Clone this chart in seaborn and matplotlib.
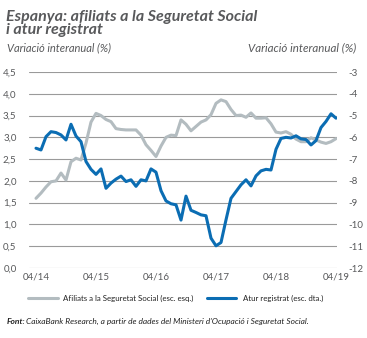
import matplotlib
matplotlib.use("Agg")
import matplotlib.pyplot as plt
import seaborn as sns
import pandas as pd
import numpy as np
from matplotlib.lines import Line2D

sns.set_style("white")
plt.rcParams['font.family'] = ['Lato', 'DejaVu Sans']

month_labels = ["04/14", "04/15", "04/16", "04/17", "04/18", "04/19"]

afiliats = [1.60, 1.72, 1.86, 1.98, 2.00, 2.18, 2.02, 2.44, 2.52, 2.48,
            2.87, 3.35, 3.55, 3.50, 3.41, 3.36, 3.20, 3.18, 3.17, 3.17,
            3.17, 3.05, 2.83, 2.70, 2.56, 2.80, 3.00, 3.05, 3.04, 3.40,
            3.30, 3.15, 3.25, 3.35, 3.40, 3.52, 3.78, 3.86, 3.82, 3.64,
            3.50, 3.51, 3.46, 3.56, 3.44, 3.44, 3.45, 3.31, 3.12, 3.10,
            3.13, 3.07, 2.96, 2.90, 2.90, 2.99, 2.94, 2.89, 2.86, 2.90,
            2.97]

atur = [-6.50, -6.58, -5.97, -5.74, -5.78, -5.89, -6.12, -5.40, -5.94, -6.20,
        -7.11, -7.47, -7.70, -7.45, -8.34, -8.10, -7.92, -7.78, -8.03, -7.95,
        -8.25, -7.95, -8.00, -7.45, -7.60, -8.45, -8.92, -9.05, -9.10, -9.80,
        -8.70, -9.35, -9.45, -9.56, -9.60, -10.63, -10.98, -10.83, -9.79, -8.80,
        -8.49, -8.18, -7.95, -8.23, -7.77, -7.54, -7.47, -7.50, -6.55, -6.05,
        -6.00, -6.03, -5.93, -6.07, -6.10, -6.35, -6.15, -5.55, -5.27, -4.92,
        -5.12]

left_ticks = [0.0, 0.5, 1.0, 1.5, 2.0, 2.5, 3.0, 3.5, 4.0, 4.5]
right_ticks = [-12, -11, -10, -9, -8, -7, -6, -5, -4, -3]

df = pd.DataFrame({"m": np.arange(len(afiliats)), "afiliats": afiliats, "atur": atur})

GRAY = "#b3bcc0"
BLUE = "#0b6db3"
TXT = "#58595b"

W, H = 367, 338
fig = plt.figure(figsize=(W / 100, H / 100), dpi=100)
ax = fig.add_axes([29 / W, 1 - 268 / H, (337 - 29) / W, (268 - 72) / H])
ax2 = ax.twinx()

for t in left_ticks:
    ax.axhline(t, color="#9a9a9a", lw=0.8, zorder=0)

sns.lineplot(data=df, x="m", y="afiliats", ax=ax, color=GRAY, lw=2.2, zorder=2)
sns.lineplot(data=df, x="m", y="atur", ax=ax2, color=BLUE, lw=2.2, zorder=3)

ax.set_ylim(0, 4.5)
ax2.set_ylim(-12, -3)
ax.set_xlim(-1.4, 60.2)
ax.set_yticks(left_ticks)
ax.set_yticklabels([f"{t:.1f}".replace(".", ",") for t in left_ticks])
ax2.set_yticks(right_ticks)
ax2.set_yticklabels([str(t) for t in right_ticks])
ax.set_xticks([0, 12, 24, 36, 48, 60])
ax.set_xticklabels(month_labels)
for a in (ax, ax2):
    a.set_xlabel("")
    a.set_ylabel("")
    for s in a.spines.values():
        s.set_visible(False)
    a.tick_params(length=0, labelsize=7, colors=TXT)
    a.grid(False)
ax.tick_params(axis="y", pad=9)
ax2.tick_params(axis="y", pad=8)
ax.tick_params(axis="x", pad=3)

fig.text(6 / W, 1 - 10 / H, "Espanya: afiliats a la Seguretat Social\ni atur registrat",
         ha="left", va="top", fontsize=11.5, fontweight="bold", fontstyle="italic",
         color=TXT, linespacing=0.92)
fig.text(7 / W, 1 - 42 / H, "Variació interanual (%)", ha="left", va="top",
         fontsize=8, fontstyle="italic", color=TXT)
fig.text(356 / W, 1 - 42 / H, "Variació interanual (%)", ha="right", va="top",
         fontsize=8.3, fontstyle="italic", color=TXT)

# legend
ly = 1 - 298 / H
fig.add_artist(Line2D([28 / W, 58 / W], [ly, ly], color=GRAY, lw=2.2))
fig.text(63 / W, ly, "Afiliats a la Seguretat Social (esc. esq.)", ha="left", va="center",
         fontsize=5.7, color="#222222")
fig.add_artist(Line2D([207 / W, 236 / W], [ly, ly], color=BLUE, lw=2.2))
fig.text(243 / W, ly, "Atur registrat (esc. dta.)", ha="left", va="center",
         fontsize=5.7, color="#222222")

sy = 1 - 321 / H
fig.text(7 / W, sy, "Font:", ha="left", va="center", fontsize=6.0,
         fontweight="bold", fontstyle="italic", color="#222222")
fig.text(26 / W, sy, "CaixaBank Research, a partir de dades del Ministeri d'Ocupació i Seguretat Social.",
         ha="left", va="center", fontsize=6.0, fontstyle="italic", color="#222222")

fig.savefig("out.png", dpi=100, facecolor="white")
